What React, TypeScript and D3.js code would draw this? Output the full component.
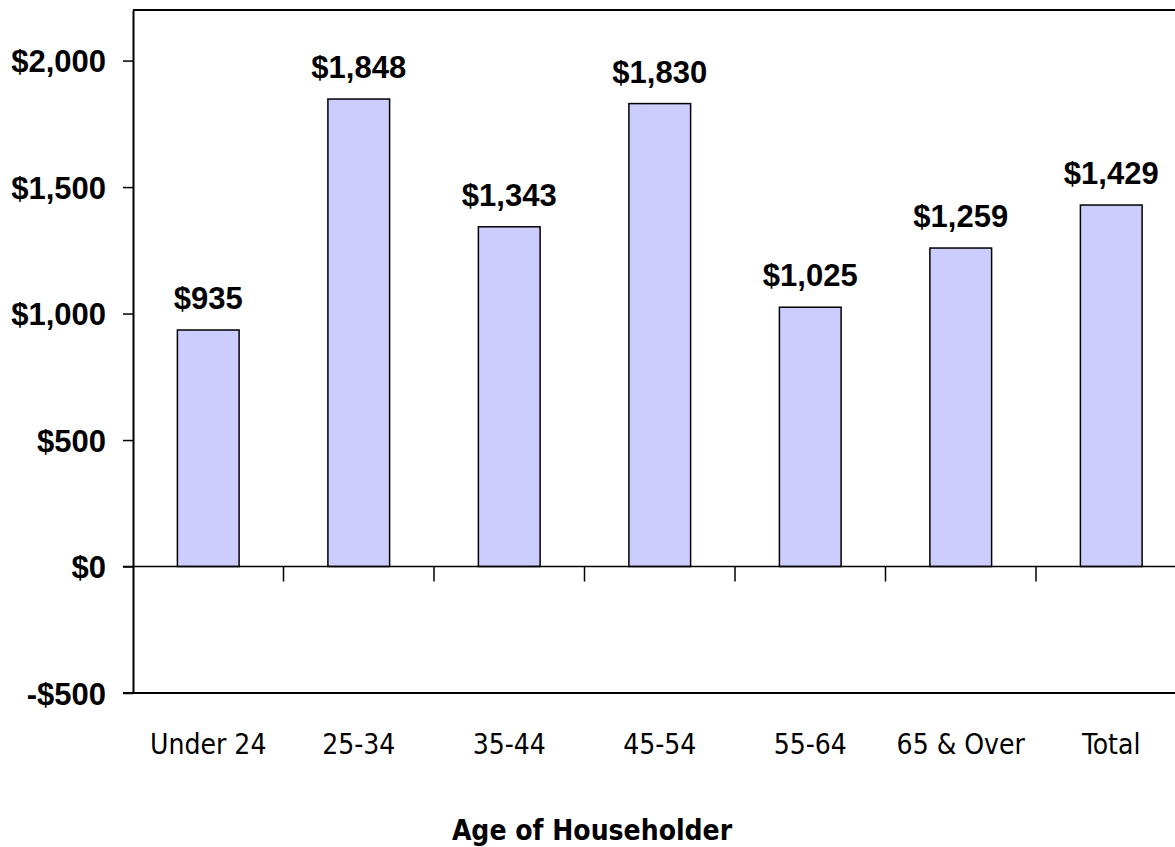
import React, { useEffect, useRef } from 'react';
import * as d3 from 'd3';

const categories = ['Under 24', '25-34', '35-44', '45-54', '55-64', '65 & Over', 'Total'];
const values = [935, 1848, 1343, 1830, 1025, 1259, 1429];
const yTicks = [-500, 0, 500, 1000, 1500, 2000];
const yDomain: [number, number] = [-500, 2200];

const width = 1175;
const height = 847;

const money = (v: number) => (v < 0 ? '-$' : '$') + d3.format(',')(Math.abs(v));

const App: React.FC = () => {
  const svgRef = useRef<SVGSVGElement>(null);

  useEffect(() => {
    if (!svgRef.current) return;
    const svg = d3.select(svgRef.current);
    svg.selectAll('*').remove();

    const plot = { left: 133, top: 10, right: 1186.5, bottom: 693 };

    const x = d3
      .scaleBand<string>()
      .domain(categories)
      .range([plot.left, plot.right])
      .paddingInner(0.59)
      .paddingOuter(0.295);

    const y = d3.scaleLinear().domain(yDomain).range([plot.bottom, plot.top]);

    const step = x.step();
    const gap = step * x.paddingInner();

    // Plot frame (top and bottom edges)
    svg.append('line')
      .attr('x1', plot.left).attr('x2', width)
      .attr('y1', plot.top).attr('y2', plot.top)
      .attr('stroke', '#000').attr('stroke-width', 2);
    svg.append('line')
      .attr('x1', plot.left - 10).attr('x2', width)
      .attr('y1', plot.bottom).attr('y2', plot.bottom)
      .attr('stroke', '#000').attr('stroke-width', 2);

    // Bars
    svg.selectAll('.bar')
      .data(values)
      .enter()
      .append('rect')
      .attr('class', 'bar')
      .attr('x', (_, i) => x(categories[i]) as number)
      .attr('y', d => y(d))
      .attr('width', x.bandwidth())
      .attr('height', d => y(0) - y(d))
      .attr('fill', '#CCCCFF')
      .attr('stroke', '#000')
      .attr('stroke-width', 1.5);

    // Zero line
    svg.append('line')
      .attr('x1', plot.left - 10).attr('x2', width)
      .attr('y1', y(0)).attr('y2', y(0))
      .attr('stroke', '#000').attr('stroke-width', 1.5);

    // Category tick marks between bands
    svg.selectAll('.ctick')
      .data(categories.slice(1))
      .enter()
      .append('line')
      .attr('x1', d => (x(d) as number) - gap / 2)
      .attr('x2', d => (x(d) as number) - gap / 2)
      .attr('y1', y(0))
      .attr('y2', y(0) + 15)
      .attr('stroke', '#000')
      .attr('stroke-width', 1.5);

    // Y axis
    const yAxis = svg.append('g')
      .attr('transform', `translate(${plot.left},0)`)
      .call(
        d3.axisLeft(y)
          .tickValues(yTicks)
          .tickSize(10)
          .tickSizeOuter(0)
          .tickPadding(17)
          .tickFormat(d => money(d as number))
      );
    yAxis.select('.domain').attr('stroke', '#000').attr('stroke-width', 2);
    yAxis.selectAll('.tick line').attr('stroke', '#000').attr('stroke-width', 1.5);
    yAxis.selectAll('.tick text')
      .attr('fill', '#000')
      .attr('dy', '0.36em')
      .style('font-family', '"Liberation Sans", Arial, sans-serif')
      .style('font-weight', 'bold')
      .style('font-size', '31px');

    // Value labels
    svg.selectAll('.vlabel')
      .data(values)
      .enter()
      .append('text')
      .attr('class', 'vlabel')
      .attr('x', (_, i) => (x(categories[i]) as number) + x.bandwidth() / 2)
      .attr('y', d => y(d) - 21)
      .attr('text-anchor', 'middle')
      .style('font-family', '"Liberation Sans", Arial, sans-serif')
      .style('font-weight', 'bold')
      .style('font-size', '31px')
      .text(d => money(d));

    // Category labels
    svg.selectAll('.clabel')
      .data(categories)
      .enter()
      .append('text')
      .attr('class', 'clabel')
      .attr('x', d => (x(d) as number) + x.bandwidth() / 2)
      .attr('y', 754)
      .attr('text-anchor', 'middle')
      .style('font-family', '"DejaVu Sans Condensed", "DejaVu Sans", sans-serif')
      .style('font-size', '28px')
      .text(d => d);

    // Axis title
    svg.append('text')
      .attr('x', 592)
      .attr('y', 840)
      .attr('text-anchor', 'middle')
      .style('font-family', '"DejaVu Sans Condensed", "DejaVu Sans", sans-serif')
      .style('font-weight', 'bold')
      .style('font-size', '28px')
      .text('Age of Householder');
  }, []);

  return (
    <svg
      ref={svgRef}
      width={width}
      height={height}
      style={{ position: 'absolute', left: 0, top: 0, background: '#fff' }}
    />
  );
};

export default App;
